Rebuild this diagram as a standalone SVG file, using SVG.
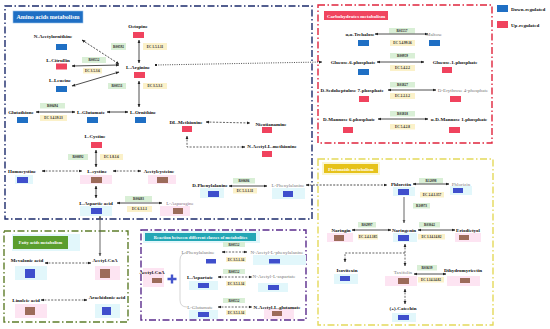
<svg xmlns="http://www.w3.org/2000/svg" width="550" height="329" viewBox="0 0 550 329">
<defs>
<marker id="a" viewBox="0 0 10 10" refX="9" refY="5" markerWidth="3.6" markerHeight="3.6" markerUnits="userSpaceOnUse" orient="auto-start-reverse"><path d="M0,1 L10,5 L0,9 z" fill="#222"/></marker>
<marker id="ag" viewBox="0 0 10 10" refX="9" refY="5" markerWidth="3.6" markerHeight="3.6" markerUnits="userSpaceOnUse" orient="auto-start-reverse"><path d="M0,1 L10,5 L0,9 z" fill="#555"/></marker>
<marker id="d" viewBox="0 0 10 10" refX="5" refY="5" markerWidth="2.6" markerHeight="2.6" markerUnits="userSpaceOnUse"><circle cx="5" cy="5" r="5" fill="#222"/></marker>
</defs>
<style>
text{font-family:"Liberation Serif","Times New Roman",serif}
.n{font-size:5px;font-weight:bold;fill:#111;text-anchor:middle}
.g{font-size:5px;fill:#7a7a7a;text-anchor:middle}
.l{font-size:3.4px;fill:#222;text-anchor:middle;font-weight:bold}
.t{font-weight:bold;fill:#fff;text-anchor:middle}
.gl{fill:#d9efd6}
.yl{fill:#fbf1c9}
.dn{fill:#1f6fc4}
.up{fill:#f0435e}
.ind{fill:#3f4fcc}
.br{fill:#9c6b5a}
.cy{fill:#e2f7fb}
.pk{fill:#fde4f2}
.s{stroke:#222;stroke-width:0.8;fill:none;marker-start:url(#a);marker-end:url(#a)}
.dsh{stroke:#222;stroke-width:0.7;fill:none;stroke-dasharray:2 1.4;marker-start:url(#a);marker-end:url(#a)}
.box{fill:none;stroke-width:1.4;stroke-dasharray:7 2.5 1.5 2.5}
</style>
<rect width="550" height="329" fill="#fff"/>

<!-- panels -->
<g id="panels">
<rect class="box" x="5" y="6" width="307" height="213" stroke="#1b2a6b" stroke-width="1.6"/>
<rect class="box" x="318" y="5" width="174" height="138" stroke="#e0243c"/>
<rect class="box" x="318" y="159" width="175" height="166" stroke="#e4d95a"/>
<rect class="box" x="4" y="231" width="124" height="91" stroke="#5e7d2a"/>
<rect class="box" x="141" y="230" width="165" height="90" stroke="#5a2b8c"/>
</g>

<g id="titles">
<rect x="13" y="11" width="70" height="12" class="dn" stroke="#9cc3ea" stroke-width="0.6"/>
<text class="t" x="48" y="19" font-size="6">Amino acids metabolism</text>
<rect x="324" y="11" width="64" height="9" fill="#f0455f"/>
<text class="t" x="356" y="17.5" font-size="5">Carbohydrates metabolism</text>
<rect x="322" y="162" width="58" height="13" fill="#fbf6d2"/>
<rect x="324" y="164" width="54" height="9" fill="#e6c21a"/>
<text class="t" x="351" y="170.5" font-size="4.6">Flavonoids metabolism</text>
<rect x="12" y="234" width="68" height="17" class="cy"/>
<rect x="13" y="236" width="55" height="13" fill="#5a9e2e"/>
<text class="t" x="40.5" y="244" font-size="4.4">Fatty acids metabolism</text>
<rect x="143" y="231" width="117" height="12" class="cy"/>
<rect x="145" y="233" width="111" height="8" fill="#23a7b5"/>
<text class="t" x="200.5" y="238.8" font-size="4.5">Reaction between different classes of metabolites</text>
</g>

<g id="legend">
<rect x="497" y="5" width="11" height="7" class="dn"/>
<text x="511" y="11" font-size="5" font-weight="bold" fill="#111">Down-regulated</text>
<rect x="497" y="21" width="11" height="7" class="up"/>
<text x="511" y="27" font-size="5" font-weight="bold" fill="#111">Up-regulated</text>
</g>

<!-- enzyme / reaction labels -->
<g id="labels">
<rect class="gl" x="111" y="43" width="15" height="7"/><text class="l" x="118.5" y="47.8">R00592</text>
<rect class="yl" x="143" y="43" width="24" height="7"/><text class="l" x="155" y="47.8">EC 1.5.1.11</text>
<rect class="gl" x="82" y="57" width="24" height="6"/><text class="l" x="94" y="61.2">R00552</text>
<rect class="yl" x="83" y="68" width="19" height="5.5"/><text class="l" x="92.5" y="72">EC 3.5.3.6</text>
<rect class="gl" x="108" y="83" width="18" height="6"/><text class="l" x="117" y="87.2">R00551</text>
<rect class="yl" x="143" y="83" width="24" height="6"/><text class="l" x="155" y="87.2">EC 3.5.3.1</text>
<rect class="gl" x="40" y="103" width="25" height="5.5"/><text class="l" x="52.5" y="107">R00494</text>
<rect class="yl" x="40" y="115" width="27" height="6"/><text class="l" x="53.5" y="119.2">EC 3.4.19.13</text>
<rect class="gl" x="68" y="154" width="20" height="6"/><text class="l" x="78" y="158.2">R00892</text>
<rect class="yl" x="100" y="154" width="23" height="6"/><text class="l" x="111.5" y="158.2">EC 1.8.1.6</text>
<rect class="gl" x="125" y="196" width="27" height="6"/><text class="l" x="138.5" y="200.2">R00483</text>
<rect class="yl" x="127" y="206" width="25" height="6"/><text class="l" x="139.5" y="210.2">EC 6.3.1.1</text>
<rect class="gl" x="233" y="178" width="22" height="5.5"/><text class="l" x="244" y="182">R00686</text>
<rect class="yl" x="233" y="188" width="24" height="5.5"/><text class="l" x="245" y="192">EC 5.1.1.11</text>

<rect class="gl" x="389" y="28" width="26" height="5.5"/><text class="l" x="402" y="32">R01557</text>
<rect class="yl" x="390" y="40" width="25" height="6"/><text class="l" x="402.5" y="44.2">EC 5.4.99.16</text>
<rect class="gl" x="390" y="53" width="25" height="5.5"/><text class="l" x="402.5" y="57">R00959</text>
<rect class="yl" x="390" y="65" width="25" height="6"/><text class="l" x="402.5" y="69.2">EC 5.4.2.2</text>
<rect class="gl" x="390" y="82" width="25" height="5.5"/><text class="l" x="402.5" y="86">R01827</text>
<rect class="yl" x="390" y="93" width="25" height="6"/><text class="l" x="402.5" y="97.2">EC 2.2.1.2</text>
<rect class="gl" x="390" y="111" width="25" height="5.5"/><text class="l" x="402.5" y="115">R01818</text>
<rect class="yl" x="390" y="124" width="25" height="5.5"/><text class="l" x="402.5" y="128">EC 5.4.2.8</text>

<rect class="gl" x="419" y="178" width="24" height="5.5"/><text class="l" x="431" y="182">R12098</text>
<rect class="yl" x="420" y="192" width="24" height="5.5"/><text class="l" x="432" y="196">EC 2.4.1.357</text>
<rect class="gl" x="413" y="203" width="17" height="5.5"/><text class="l" x="421.5" y="207">R10973</text>
<rect class="gl" x="358" y="222" width="18" height="5.5"/><text class="l" x="367" y="226">R02997</text>
<rect class="yl" x="358" y="234" width="20" height="5.5"/><text class="l" x="368" y="238">EC 2.4.1.185</text>
<rect class="gl" x="419" y="222" width="21" height="5.5"/><text class="l" x="429.5" y="226">R03042</text>
<rect class="yl" x="418" y="234" width="27" height="5.5"/><text class="l" x="431.5" y="238">EC 1.14.14.82</text>
<rect class="gl" x="417" y="265" width="20" height="5.5"/><text class="l" x="427" y="269">R03639</text>
<rect class="yl" x="418" y="277" width="26" height="5.5"/><text class="l" x="431" y="281">EC 1.14.14.82</text>

<rect class="gl" x="223" y="242" width="22" height="5"/><text class="l" x="234" y="245.7">R00552</text>
<rect class="yl" x="226" y="257" width="20" height="5"/><text class="l" x="236" y="260.7">EC 3.5.1.14</text>
<rect class="gl" x="223" y="269" width="22" height="5"/><text class="l" x="234" y="272.7">R00552</text>
<rect class="yl" x="226" y="281" width="20" height="5"/><text class="l" x="236" y="284.7">EC 3.5.1.14</text>
<rect class="gl" x="223" y="298" width="22" height="5"/><text class="l" x="234" y="301.7">R00552</text>
<rect class="yl" x="226" y="310" width="20" height="5"/><text class="l" x="236" y="313.7">EC 3.5.1.14</text>
</g>

<!-- connectors -->
<g id="connectors">
<line class="s" x1="139" y1="40" x2="139" y2="63"/>
<line x1="82" y1="40" x2="119" y2="64" stroke="#222" stroke-width="0.8" stroke-dasharray="2 1.4" marker-start="url(#a)" marker-end="url(#a)"/>
<line class="s" x1="72" y1="66" x2="119" y2="65"/>
<line class="s" x1="72" y1="86" x2="119" y2="72"/>
<line class="s" x1="139" y1="81" x2="139" y2="107"/>
<line class="s" x1="36" y1="112" x2="75" y2="112"/>
<line class="s" x1="107" y1="112" x2="128" y2="112"/>
<line class="s" x1="96" y1="150" x2="96" y2="167"/>
<line class="dsh" x1="42" y1="171" x2="82" y2="171"/>
<line class="dsh" x1="113" y1="171" x2="141" y2="171"/>
<line class="s" x1="96" y1="186" x2="96" y2="198"/>
<line class="s" x1="117" y1="203" x2="162" y2="203"/>
<line class="dsh" x1="206" y1="122" x2="250" y2="123"/>
<path class="dsh" d="M187,136 V147 H245"/>
<line class="s" x1="229" y1="186" x2="267" y2="186"/>
<line x1="156" y1="65" x2="322" y2="62" stroke="#222" stroke-width="0.8" stroke-dasharray="1 1.3" marker-start="url(#d)" marker-end="url(#a)"/>
<line x1="306" y1="185" x2="387" y2="185" stroke="#222" stroke-width="0.8" stroke-dasharray="2 1.4" marker-start="url(#a)" marker-end="url(#a)"/>
<line x1="100" y1="216" x2="100" y2="256" stroke="#555" stroke-width="0.9" marker-start="url(#ag)" marker-end="url(#ag)"/>

<line class="s" x1="375" y1="34" x2="428" y2="34"/>
<line class="s" x1="377" y1="62" x2="424" y2="62"/>
<line class="s" x1="388" y1="90" x2="436" y2="90"/>
<line class="s" x1="378" y1="119" x2="428" y2="119"/>

<line class="s" x1="413" y1="184" x2="449" y2="184"/>
<line x1="404" y1="197" x2="404" y2="223" stroke="#555" stroke-width="0.9" marker-end="url(#ag)"/>
<line class="s" x1="352" y1="230" x2="391" y2="230"/>
<line class="s" x1="418" y1="230" x2="455" y2="230"/>
<line class="dsh" x1="405" y1="244" x2="405" y2="266"/>
<path d="M405,253 H345 V262" stroke="#222" stroke-width="0.7" fill="none" stroke-dasharray="2 1.4" marker-end="url(#a)"/>
<line class="s" x1="414" y1="274" x2="446" y2="274"/>
<line class="dsh" x1="405" y1="289" x2="405" y2="304"/>

<line class="dsh" x1="45" y1="263" x2="91" y2="263"/>
<line class="dsh" x1="41" y1="300" x2="87" y2="300"/>

<path d="M187,253 Q180,253 180,260 L180,300 Q180,307 187,307" stroke="#bbb" stroke-width="0.6" fill="none"/>
<line class="dsh" x1="222" y1="252" x2="247" y2="252"/>
<line class="dsh" x1="218" y1="277" x2="252" y2="277"/>
<line class="dsh" x1="218" y1="307" x2="252" y2="307"/>
</g>

<!-- amino acid nodes -->
<g id="octopine"><text class="n" x="138" y="28">Octopine</text><rect class="up" x="133" y="32" width="11" height="6"/></g>
<g id="n-acetylornithine"><text class="n" x="53" y="38">N-Acetylornithine</text><rect class="dn" x="56" y="44" width="11" height="6"/></g>
<g id="l-citrullin"><text class="n" x="58" y="61.5">L-Citrullin</text><rect class="up" x="56" y="63.5" width="11" height="6"/></g>
<g id="l-arginine"><text class="n" x="138" y="69">L-Arginine</text><rect class="up" x="134" y="72" width="11" height="6"/></g>
<g id="l-leucine"><text class="n" x="60" y="82">L-Leucine</text><rect class="dn" x="56" y="86" width="11" height="6"/></g>
<g id="glutathione"><text class="n" x="21" y="114">Glutathione</text><rect class="dn" x="17" y="117" width="11" height="6"/></g>
<g id="l-glutamate"><text class="n" x="91" y="114">L-Glutamate</text><rect class="dn" x="87" y="117" width="11" height="6"/></g>
<g id="l-ornithine"><text class="n" x="143" y="114">L-Ornithine</text><rect class="dn" x="135" y="117" width="11" height="6"/></g>
<g id="l-cystine"><text class="n" x="95" y="138">L-Cystine</text><rect class="up" x="91" y="142" width="11" height="6"/></g>
<g id="homocystine"><rect class="cy" x="15" y="175" width="18" height="9"/><text class="n" x="22" y="173">Homocystine</text><rect class="ind" x="17" y="177" width="11" height="6"/></g>
<g id="l-cysteine"><rect class="pk" x="80" y="175" width="32" height="9"/><text class="n" x="97" y="173">L-cystine</text><rect class="br" x="91" y="177" width="11" height="6"/></g>
<g id="acetylcysteine"><rect class="pk" x="148" y="175" width="28" height="9"/><text class="n" x="159" y="173">Acetylcysteine</text><rect class="br" x="157" y="177" width="11" height="6"/></g>
<g id="l-aspartic-acid"><rect class="cy" x="80" y="206" width="32" height="10"/><text class="n" x="96" y="205">L-Aspartic acid</text><rect class="ind" x="91" y="208" width="11" height="6"/></g>
<g id="l-asparagine"><rect class="pk" x="160" y="206" width="30" height="10"/><text class="g" x="180" y="205" fill="#8a6f8a" style="fill:#8a7088">L-Asparagine</text><rect class="br" x="173" y="208" width="10" height="6"/></g>
<g id="dl-methionine"><text class="n" x="186" y="124">DL-Methionine</text><rect class="up" x="182" y="126" width="10" height="6"/></g>
<g id="nicotianamine"><text class="n" x="271" y="126">Nicotianamine</text><rect class="up" x="262" y="127" width="10" height="6"/></g>
<g id="n-acetyl-l-methionine"><text class="n" x="272" y="148">N-Acetyl-L-methionine</text><rect class="up" x="262" y="151" width="10" height="6"/></g>
<g id="d-phenylalanine"><rect class="cy" x="200" y="188" width="24" height="10"/><text class="n" x="210" y="187">D-Phenylalanine</text><rect class="ind" x="208" y="191" width="11" height="6"/></g>
<g id="l-phenylalanine"><rect class="cy" x="272" y="188" width="33" height="11"/><text class="g" x="288" y="187">L-Phenylalanine</text><rect class="ind" x="283" y="191" width="10" height="6"/></g>

<!-- carbohydrate nodes -->
<g id="trehalose"><text class="n" x="360" y="36">α,α-Trehalose</text><rect class="dn" x="358" y="40" width="11" height="6"/></g>
<g id="maltose"><text class="g" x="434" y="36">Maltose</text><rect class="dn" x="429" y="40" width="11" height="6"/></g>
<g id="glucose-6-phosphate"><text class="n" x="353" y="64">Glucose-6-phosphate</text><rect class="dn" x="358" y="69" width="11" height="6"/></g>
<g id="glucose-1-phosphate"><text class="n" x="455" y="64">Glucose-1-phosphate</text><rect class="up" x="442" y="67" width="10" height="6"/></g>
<g id="sedoheptulose"><text class="n" x="352" y="92">D-Sedoheptulose 7-phosphate</text><rect class="up" x="359" y="96" width="10" height="6"/></g>
<g id="erythrose"><text class="g" x="463" y="92">D-Erythrose 4-phosphate</text><rect class="up" x="450" y="96" width="11" height="6"/></g>
<g id="mannose-6-phosphate"><text class="n" x="349" y="121">D-Mannose 6-phosphate</text><rect class="up" x="343" y="127" width="10" height="6"/></g>
<g id="mannose-1-phosphate"><text class="n" x="459" y="121">α-D-Mannose 1-phosphate</text><rect class="up" x="449" y="127" width="11" height="6"/></g>

<!-- flavonoid nodes -->
<g id="phloretin"><rect class="cy" x="393" y="187" width="22" height="9"/><text class="n" x="401" y="186">Phloretin</text><rect class="ind" x="398" y="189" width="11" height="6"/></g>
<g id="phlorizin"><rect class="cy" x="450" y="186" width="22" height="9"/><text class="g" x="461" y="185.5">Phlorizin</text><rect class="ind" x="453" y="188" width="10" height="5"/></g>
<g id="naringenin"><rect class="cy" x="393" y="233" width="24" height="9"/><text class="n" x="404" y="232">Naringenin</text><rect class="ind" x="398" y="235" width="11" height="6"/></g>
<g id="naringin"><rect class="pk" x="327" y="233" width="26" height="9"/><text class="n" x="341" y="232">Naringin</text><rect class="br" x="334" y="235" width="10" height="6"/></g>
<g id="eriodictyol"><rect class="pk" x="455" y="233" width="26" height="9"/><text class="n" x="468" y="232">Eriodictyol</text><rect class="br" x="459" y="235" width="10" height="5"/></g>
<g id="isovitexin"><rect class="cy" x="334" y="274" width="24" height="10"/><text class="n" x="347" y="272">Isovitexin</text><rect class="ind" x="340" y="276" width="10" height="5"/></g>
<g id="taxifolin"><rect class="pk" x="385" y="276" width="32" height="10"/><text class="g" x="403" y="274">Taxifolin</text><rect class="br" x="398" y="278" width="11" height="6"/></g>
<g id="dihydromyricetin"><rect class="pk" x="447" y="276" width="33" height="10"/><text class="n" x="463" y="272">Dihydromyricetin</text><rect class="br" x="460" y="278" width="10" height="5"/></g>
<g id="catechin"><rect class="cy" x="392" y="313" width="24" height="9"/><text class="n" x="403" y="310">(+)-Catechin</text><rect class="ind" x="398" y="315" width="11" height="5"/></g>

<!-- fatty acid nodes -->
<g id="mevalonic-acid"><rect class="cy" x="15" y="266" width="32" height="14"/><text class="n" x="27" y="262">Mevalonic acid</text><rect class="ind" x="25" y="269" width="10" height="9"/></g>
<g id="acetyl-coa-fa"><rect class="pk" x="95" y="266" width="25" height="14"/><text class="n" x="105" y="262">Acetyl-CoA</text><rect class="br" x="100" y="269" width="10" height="9"/></g>
<g id="linoleic-acid"><rect class="pk" x="15" y="304" width="32" height="14"/><text class="n" x="26" y="302">Linoleic acid</text><rect class="br" x="25" y="307" width="10" height="8"/></g>
<g id="arachidonic-acid"><rect class="cy" x="95" y="304" width="25" height="14"/><text class="n" x="107" y="299">Arachidonic acid</text><rect class="ind" x="102" y="307" width="9" height="8"/></g>

<!-- reaction nodes -->
<g id="acetyl-coa-r"><rect class="pk" x="143" y="268" width="21" height="19"/><text class="n" x="152" y="274">Acetyl-CoA</text><rect class="br" x="152" y="278" width="10" height="5"/></g>
<g id="plus"><path d="M167.5,279 H176.5 M172,274.5 V283.5" stroke="#4455cc" stroke-width="2.4"/></g>
<g id="l-phenylalanine-r"><text class="g" x="198" y="254">L-Phenylalanine</text><rect class="ind" x="206" y="259" width="10" height="4.5"/></g>
<g id="n-acetyl-l-phenylalanine"><rect class="cy" x="253" y="255" width="53" height="10"/><text class="g" x="277" y="254">N-Acetyl-L-phenylalanine</text><rect class="ind" x="269" y="259" width="11" height="4.5"/></g>
<g id="l-aspartate"><rect class="cy" x="189" y="281" width="29" height="9"/><text class="n" x="200" y="279">L-Aspartate</text><rect class="ind" x="198" y="283" width="11" height="5"/></g>
<g id="n-acetyl-l-aspartate"><rect class="cy" x="258" y="283" width="30" height="9"/><text class="g" x="274" y="278">N-Acetyl-L-aspartate</text><rect class="ind" x="268" y="285" width="11" height="5"/></g>
<g id="l-glutamate-r"><rect class="cy" x="189" y="310" width="29" height="9"/><text class="g" x="200" y="309">L-Glutamate</text><rect class="ind" x="198" y="312" width="11" height="5"/></g>
<g id="n-acetyl-l-glutamate"><rect class="pk" x="264" y="309" width="30" height="10"/><text class="n" x="277" y="309">N-Acetyl-L-glutamate</text><rect class="br" x="272" y="311" width="10" height="5"/></g>
</svg>
